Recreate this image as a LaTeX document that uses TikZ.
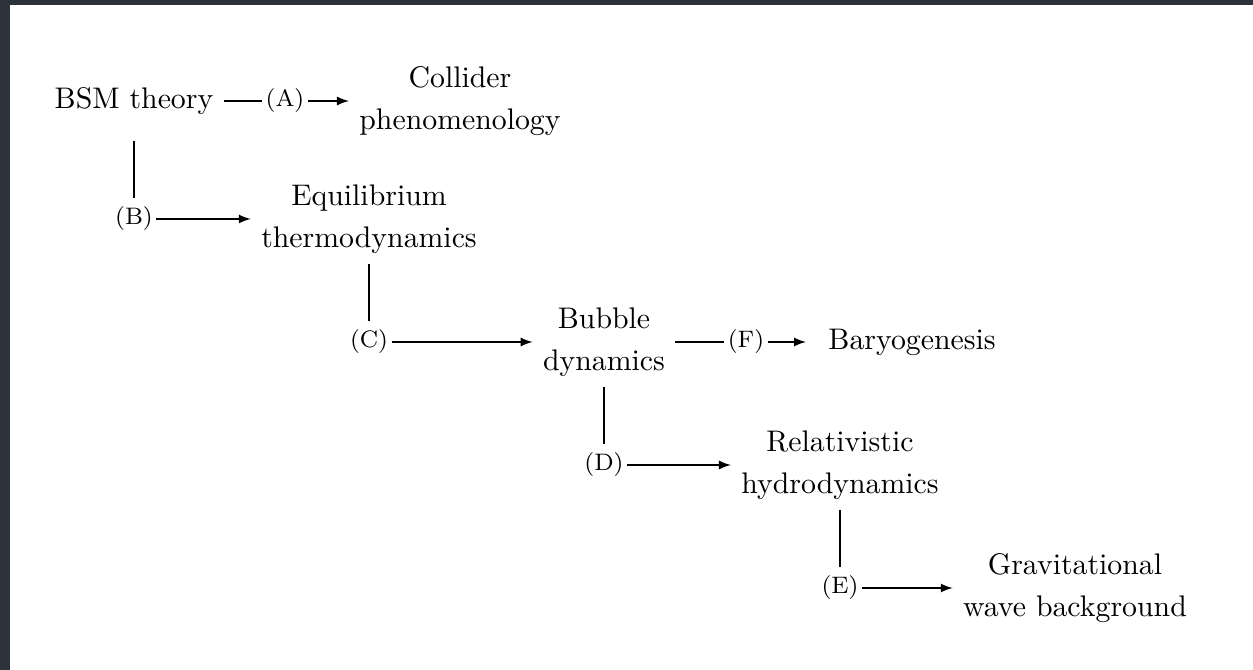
\documentclass[tikz,border=0pt]{standalone}
\usepackage{amsmath,amssymb}
\usetikzlibrary{arrows}
\definecolor{framegray}{RGB}{45,51,59}
\tikzset{
	stage/.style={align=center},
	lbl/.style={font=\footnotesize, inner sep=1pt},
	vline/.style={shorten <=0pt, shorten >=2pt},
	harrow/.style={-latex}
}

\begin{document}
\begin{tikzpicture}[x=0.3356pt, y=-0.3356pt]
			\fill[framegray] (0,0) rectangle (1253,670);
			\fill[white] (10,5) rectangle (1253,670);
			\node[stage] (bsm) at (134,101) {BSM theory};
			\node[lbl] (la) at (285,101) {(A)};
			\node[stage] (col) at (460,101) {Collider\\[2pt] phenomenology};
			\node[lbl] (lb) at (134,219) {(B)};
			\node[stage] (eq) at (369,219) {Equilibrium\\[2pt] thermodynamics};
			\node[lbl] (lc) at (369,342) {(C)};
			\node[stage] (bub) at (604,342) {Bubble\\[2pt] dynamics};
			\node[lbl] (lf) at (746,342) {(F)};
			\node[stage] (bar) at (912,342) {Baryogenesis};
			\node[lbl] (ld) at (604,465) {(D)};
			\node[stage] (rel) at (840,465) {Relativistic\\[2pt] hydrodynamics};
			\node[lbl] (le) at (840,588) {(E)};
			\node[stage] (gw) at (1075,588) {Gravitational\\[2pt] wave background};
			\draw (bsm) -- (la);
			\draw[harrow] (la) -- (col);
			\draw[vline, shorten <=5.5pt] (bsm) -- (lb);
			\draw[harrow] (lb) -- (eq);
			\draw[vline] (eq) -- (lc);
			\draw[harrow] (lc) -- (bub);
			\draw (bub) -- (lf);
			%\draw[harrow] (lf) -- (bar);
			\draw[harrow, shorten >=4pt] (lf) -- (bar);
			\draw[vline] (bub) -- (ld);
			\draw[harrow] (ld) -- (rel);
			\draw[vline] (rel) -- (le);
			\draw[harrow] (le) -- (gw);
\end{tikzpicture}
\end{document}
